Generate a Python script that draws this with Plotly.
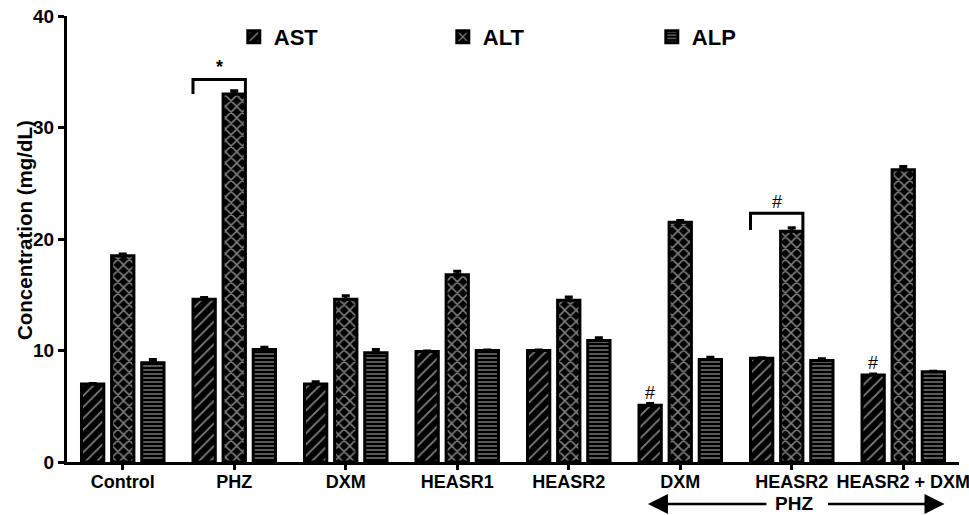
import plotly.graph_objects as go

# Groups along the x axis (two treatment sets share names, so positions are numeric)
groups = ["Control", "PHZ", "DXM", "HEASR1", "HEASR2", "DXM", "HEASR2", "HEASR2 + DXM"]

# Mean enzyme levels (mg/dL)
ast = [7.0, 14.6, 7.0, 9.9, 10.0, 5.1, 9.3, 7.8]
alt = [18.5, 33.0, 14.6, 16.8, 14.5, 21.5, 20.7, 26.2]
alp = [8.9, 10.1, 9.8, 10.0, 10.9, 9.2, 9.1, 8.1]

# Standard errors
ast_err = [0.05, 0.15, 0.2, 0.05, 0.05, 0.15, 0.05, 0.1]
alt_err = [0.15, 0.3, 0.3, 0.3, 0.3, 0.15, 0.3, 0.3]
alp_err = [0.3, 0.2, 0.3, 0.05, 0.25, 0.2, 0.15, 0.05]

FONT = "Arial, Liberation Sans, sans-serif"
pos = list(range(len(groups)))

# name, values, errors, hatch, hatch spacing, hatch thickness, bar offset
series = [
    ("AST", ast, ast_err, "/", 8, 0.22, -0.37),
    ("ALT", alt, alt_err, "x", 8, 0.34, -0.10),
    ("ALP", alp, alp_err, "-", 4, 0.35, 0.17),
]

fig = go.Figure()
for name, vals, errs, shape, size, sol, off in series:
    fig.add_trace(go.Bar(
        name=name, x=pos, y=vals, width=0.2, offset=off,
        marker=dict(
            color="black",
            line=dict(color="black", width=3),
            pattern=dict(shape=shape, fgcolor="white", bgcolor="black",
                         size=size, solidity=sol, fillmode="overlay"),
        ),
        error_y=dict(type="data", array=errs, arrayminus=[0] * len(errs),
                     symmetric=False, color="black", thickness=3, width=4),
    ))

shapes = []
annotations = []

# Significance brackets (AST to ALT of a group)
def bracket(g, top, leg, label, label_y, size):
    x0, x1 = g - 0.37, g + 0.10
    shapes.append(dict(type="path", xref="x", yref="y",
                       path=f"M {x0},{leg} L {x0},{top} L {x1},{top} L {x1},{leg}",
                       line=dict(color="black", width=3)))
    annotations.append(dict(x=(x0 + x1) / 2, y=label_y, xref="x", yref="y",
                            text=label, showarrow=False,
                            font=dict(family=FONT, size=size, color="black")))

bracket(1, 34.3, 33.0, "<b>*</b>", 35.4, 18)
bracket(6, 22.3, 20.8, "#", 23.3, 18)

# Markers over individual AST bars
for g in (5, 7):
    annotations.append(dict(x=g - 0.27, y=ast[g] + 1.1, xref="x", yref="y",
                            text="#", showarrow=False,
                            font=dict(family=FONT, size=18, color="black")))

# PHZ span arrow under the last three groups
ARROW_Y = -0.094
annotations.append(dict(x=6.02, y=ARROW_Y, xref="x", yref="paper", text="<b>PHZ</b>",
                        yanchor="middle", showarrow=False,
                        font=dict(family=FONT, size=19, color="black")))
annotations.append(dict(x=4.71, y=ARROW_Y, xref="x", yref="paper", text="",
                        showarrow=True, ax=120, ay=0, arrowhead=2, arrowsize=1.6,
                        arrowwidth=2.5, arrowcolor="black", standoff=0))
annotations.append(dict(x=7.37, y=ARROW_Y, xref="x", yref="paper", text="",
                        showarrow=True, ax=-118, ay=0, arrowhead=2, arrowsize=1.6,
                        arrowwidth=2.5, arrowcolor="black", standoff=0))

# Y-axis title
annotations.append(dict(x=0, y=0.5, xref="paper", yref="paper", xshift=-43, yshift=9,
                        xanchor="center", yanchor="middle",
                        text="<b>Concentration (mg/dL)</b>", textangle=-90,
                        showarrow=False, font=dict(family=FONT, size=20.5, color="black")))

fig.update_layout(
    width=969, height=515,
    margin=dict(l=67, r=10, t=16, b=53),
    plot_bgcolor="white", paper_bgcolor="white",
    barmode="overlay",
    shapes=shapes, annotations=annotations,
    showlegend=True,
    legend=dict(orientation="h", x=0.187, y=1.0, xanchor="left", yanchor="top",
                entrywidth=164, entrywidthmode="pixels", bgcolor="rgba(0,0,0,0)",
                font=dict(family=FONT, size=22, color="black", weight="bold")),
    font=dict(family=FONT, color="black"),
)

fig.update_xaxes(
    range=[-0.5, 7.5], tickvals=pos, ticktext=groups, automargin=False,
    showline=True, linecolor="black", linewidth=3,
    ticks="outside", ticklen=5, tickwidth=2.5, tickcolor="black",
    showgrid=False, zeroline=False, tickangle=0, ticklabeloverflow="allow",
    ticklabelstandoff=-4,
    tickfont=dict(family=FONT, size=18, color="black", weight="bold"),
)
fig.update_yaxes(
    range=[0, 40], tickvals=[0, 10, 20, 30, 40], automargin=False,
    showline=True, linecolor="black", linewidth=3,
    ticks="outside", ticklen=6, tickwidth=2.5, tickcolor="black",
    showgrid=False, zeroline=False,
    tickfont=dict(family=FONT, size=19, color="black", weight="bold"),
)

fig.write_html("out.html")
